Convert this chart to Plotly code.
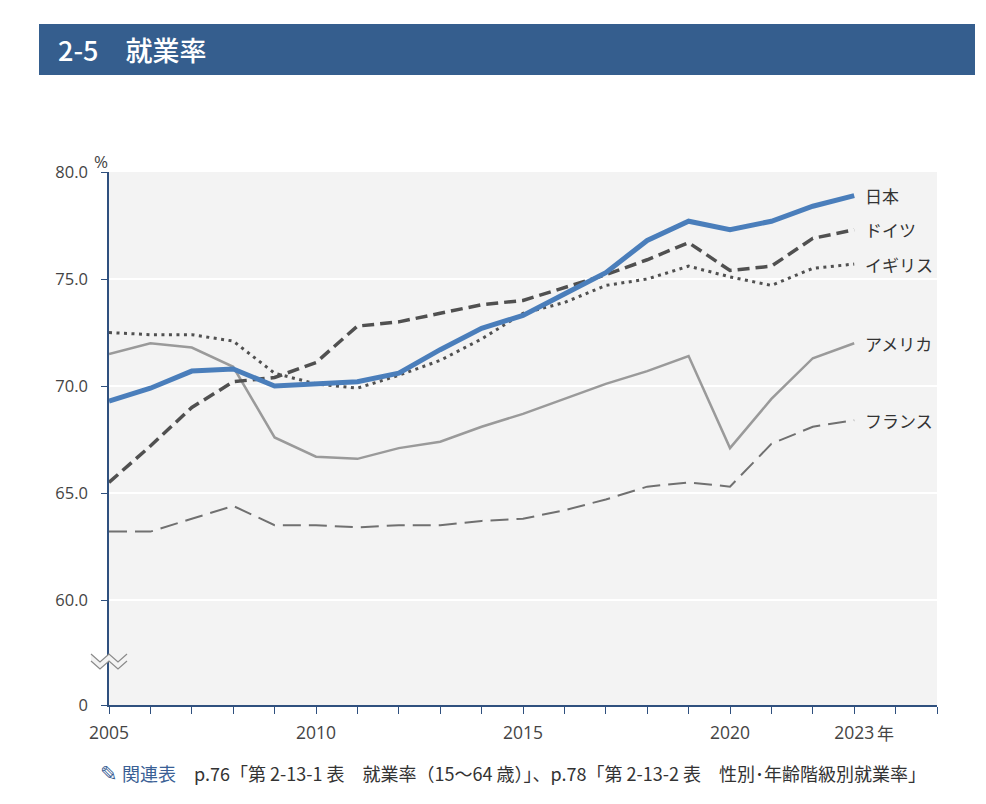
import plotly.graph_objects as go

years = list(range(2005, 2024))
japan   = [69.3, 69.9, 70.7, 70.8, 70.0, 70.1, 70.2, 70.6, 71.7, 72.7, 73.3, 74.3, 75.3, 76.8, 77.7, 77.3, 77.7, 78.4, 78.9]
germany = [65.5, 67.2, 69.0, 70.2, 70.4, 71.1, 72.8, 73.0, 73.4, 73.8, 74.0, 74.6, 75.2, 75.9, 76.7, 75.4, 75.6, 76.9, 77.3]
uk      = [72.5, 72.4, 72.4, 72.1, 70.6, 70.1, 69.9, 70.5, 71.2, 72.2, 73.4, 73.9, 74.7, 75.0, 75.6, 75.1, 74.7, 75.5, 75.7]
usa     = [71.5, 72.0, 71.8, 70.9, 67.6, 66.7, 66.6, 67.1, 67.4, 68.1, 68.7, 69.4, 70.1, 70.7, 71.4, 67.1, 69.4, 71.3, 72.0]
france  = [63.2, 63.2, 63.8, 64.4, 63.5, 63.5, 63.4, 63.5, 63.5, 63.7, 63.8, 64.2, 64.7, 65.3, 65.5, 65.3, 67.3, 68.1, 68.4]

names = ["日本", "ドイツ", "イギリス", "アメリカ", "フランス"]
series = [japan, germany, uk, usa, france]
styles = [
    dict(color="#4A7EBB", width=5, dash="solid"),
    dict(color="#505050", width=3.5, dash="12px,6px"),
    dict(color="#505050", width=3, dash="3px,4.5px"),
    dict(color="#9A9A9A", width=2.5, dash="solid"),
    dict(color="#707070", width=2, dash="18px,8px"),
]

y_ticks = [60, 65, 70, 75, 80]
y_zero_pos = 55.1  # position of the broken-axis "0"
x_labels = {2005: "2005", 2010: "2010", 2015: "2015", 2020: "2020", 2023: "2023"}

OFF = 8  # page body margin
W, H = 986 - OFF, 804 - OFF
L, R, T, B = 109 - OFF, 49, 172 - OFF, 99
PW, PH = W - L - R, H - T - B

def px(x):
    return (x - OFF - L) / PW

def py(y):
    return (H - B - (y - OFF)) / PH

FONT = "Open Sans, Noto Sans CJK JP, sans-serif"
AX = "#2F507E"

fig = go.Figure()
order = [4, 3, 2, 1, 0]
for i in order:
    fig.add_trace(go.Scatter(x=years, y=series[i], mode="lines", name=names[i],
                             line=styles[i], showlegend=False, hoverinfo="x+y"))

annotations = []
for i in range(5):
    annotations.append(dict(x=years[-1], y=series[i][-1], xref="x", yref="y",
                            text=names[i], showarrow=False, xanchor="left", yanchor="middle",
                            xshift=9, font=dict(family="Noto Sans CJK JP", size=17, color="#333333")))

annotations += [
    dict(x=px(56), y=py(50), xref="paper", yref="paper", text="2-5　就業率", showarrow=False,
         xanchor="left", yanchor="middle",
         font=dict(family="Noto Sans CJK JP", size=27, color="white", weight=500)),
    dict(x=px(92), y=py(162), xref="paper", yref="paper", text="%", showarrow=False,
         xanchor="left", yanchor="middle", font=dict(family=FONT, size=17, color="#444444")),
    dict(x=px(875), y=py(732), xref="paper", yref="paper", text="年", showarrow=False,
         xanchor="left", yanchor="middle", font=dict(family="Noto Sans CJK JP", size=17, color="#444444")),
    dict(x=px(98), y=py(772), xref="paper", yref="paper",
         text="<span style='color:#3A5F95'><span style='font-size:21px'>✎</span> 関連表</span>　p.76「第 2-13-1 表　就業率（15～64 歳）」、p.78「第 2-13-2 表　性別･年齢階級別就業率」",
         showarrow=False, xanchor="left", yanchor="middle",
         font=dict(family="Noto Sans CJK JP", size=18, color="#333333")),
]

shapes = [
    dict(type="rect", xref="paper", yref="paper", x0=px(39), x1=px(975), y0=py(75), y1=py(24),
         fillcolor="#355E8E", line=dict(width=0), layer="above"),
]
# axis break mark
def zig(y0):
    pts = [(91, y0), (100, y0 + 8), (109, y0), (118, y0 + 8), (127, y0)]
    return "M " + " L ".join(f"{px(a)},{py(b)}" for a, b in pts)

band = [(91, 654), (100, 662), (109, 654), (118, 662), (127, 654),
        (127, 661), (118, 669), (109, 661), (100, 669), (91, 661)]
shapes.append(dict(type="path", xref="paper", yref="paper",
                   path="M " + " L ".join(f"{px(a)},{py(b)}" for a, b in band) + " Z",
                   fillcolor="#F3F3F3", line=dict(width=0), layer="above"))
shapes.append(dict(type="path", xref="paper", yref="paper", path=zig(654),
                   line=dict(color="#8A8A8A", width=1.2), layer="above"))
shapes.append(dict(type="path", xref="paper", yref="paper", path=zig(661),
                   line=dict(color="#8A8A8A", width=1.2), layer="above"))

fig.update_layout(
    width=W, height=H,
    margin=dict(l=L, r=R, t=T, b=B),
    paper_bgcolor="white", plot_bgcolor="#F3F3F3",
    font=dict(family=FONT, color="#444444"),
    annotations=annotations, shapes=shapes,
)
fig.update_xaxes(
    range=[2005, 2025], tickvals=list(range(2005, 2026)),
    ticktext=[x_labels.get(v, "") for v in range(2005, 2026)],
    showgrid=False, zeroline=False, showline=True, linecolor=AX, linewidth=1.5,
    ticks="outside", ticklen=7, tickcolor=AX, tickwidth=1.2,
    tickfont=dict(family=FONT, size=17.5, color="#444444"), ticklabelstandoff=4,
)
fig.update_yaxes(
    range=[y_zero_pos, 80], tickvals=[y_zero_pos] + y_ticks,
    ticktext=["0"] + [f"{v:.1f}" for v in y_ticks],
    showgrid=True, gridcolor="white", gridwidth=2, zeroline=False,
    showline=True, linecolor=AX, linewidth=1.5,
    ticks="outside", ticklen=6, tickcolor=AX, tickwidth=1.2,
    tickfont=dict(family=FONT, size=16.5, color="#444444"), ticklabelstandoff=10,
)

fig.write_html("out.html")
